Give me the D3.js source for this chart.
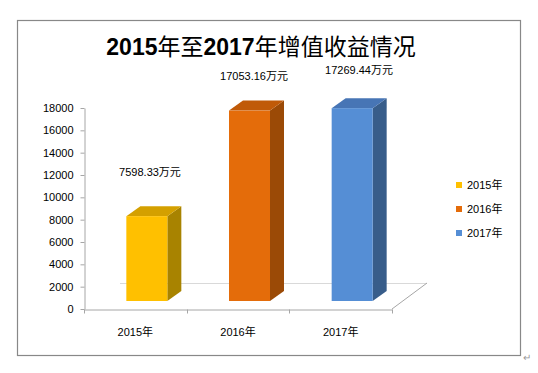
<!DOCTYPE html>
<html>
<head>
<meta charset="utf-8">
<script src="https://cdn.jsdelivr.net/npm/d3@7"></script>
<style>
	body{margin:0;background:#fff;}
	svg text{font-family:"Liberation Sans","Noto Sans CJK SC",sans-serif;fill:#000;}
</style>
</head>
<body>
<svg width="538" height="373"></svg>
<script>
const years = ['2015年','2016年','2017年'];
const values = [7598.33, 17053.16, 17269.44];
const valueLabels = ['7598.33万元','17053.16万元','17269.44万元'];
const yTicks = [0,2000,4000,6000,8000,10000,12000,14000,16000,18000];
const titleParts = [['2015',true],['年至',false],['2017',true],['年增值收益情况',false]];
const colors = [
	{front:'#FFC000', top:'#D4A000', side:'#A88300'},
	{front:'#E46C0A', top:'#C05A08', side:'#9B4A06'},
	{front:'#558ED5', top:'#4775B5', side:'#385D8A'}
];

const svg = d3.select('svg');

// frame
svg.append('rect')
	.attr('x',17.5).attr('y',20.5)
	.attr('width',503).attr('height',335)
	.attr('fill','none').attr('stroke','#888').attr('stroke-width',1.2);

svg.append('text')
	.attr('x',527).attr('y',361)
	.attr('text-anchor','middle')
	.style('font-size','10px').style('fill','#999')
	.text('↵');

// title: digits bold, cjk regular
svg.append('text')
	.attr('x',261).attr('y',55)
	.attr('text-anchor','middle')
	.style('font-size','23px')
	.selectAll('tspan')
	.data(titleParts)
	.join('tspan')
	.style('font-weight',d=>d[1] ? 'bold' : 'normal')
	.text(d=>d[0]);

const x = d3.scaleBand().domain(years).range([84,392]);
const y = d3.scaleLinear().domain([0,18000]).range([309,108]);

// depth of the 3d shapes
const dx = 14, dy = -10;
const yBar = v => y(v) - 8;

// floor back line + right edge
svg.append('line')
	.attr('x1',120).attr('x2',427).attr('y1',283.5).attr('y2',283.5)
	.attr('stroke','#d9d9d9');
svg.append('line')
	.attr('x1',392).attr('y1',309).attr('x2',427).attr('y2',283)
	.attr('stroke','#a6a6a6');

// axes
const yAxis = d3.axisLeft(y).tickValues(yTicks).tickFormat(d3.format('d'))
	.tickSize(4).tickSizeOuter(0).tickPadding(7);
const gy = svg.append('g').attr('transform','translate(84.5,0)').call(yAxis);
gy.select('.domain').attr('stroke','#a6a6a6');
gy.selectAll('.tick line').attr('stroke','#a6a6a6');
gy.selectAll('.tick text').style('font-size','11px').attr('fill','#000');

const xAxis = d3.axisBottom(x).tickSize(0).tickPadding(0);
const gx = svg.append('g').attr('transform','translate(0,309.5)').call(xAxis);
gx.select('.domain').attr('stroke','#a6a6a6');
gx.selectAll('.tick text').attr('dy',null).attr('y',26).style('font-size','11px').attr('fill','#000');
// category separators
gx.selectAll('line.sep')
	.data([84,187,289,392])
	.join('line')
	.classed('sep',true)
	.attr('x1',d=>d+0.5).attr('x2',d=>d+0.5)
	.attr('y1',0).attr('y2',4)
	.attr('stroke','#a6a6a6');

// bars
const barW = 41;
const bars = svg.selectAll('g.bar')
	.data(values)
	.join('g')
	.classed('bar',true);

bars.each(function(v,i){
	const g = d3.select(this);
	const x0 = x(years[i]) + x.bandwidth()/2 - 9;
	const x1 = x0 + barW;
	const yt = yBar(v), yb = yBar(0);
	const c = colors[i];
	g.append('path')
		.attr('d',`M${x1},${yt}L${x1+dx},${yt+dy}L${x1+dx},${yb+dy}L${x1},${yb}Z`)
		.attr('fill',c.side);
	g.append('path')
		.attr('d',`M${x0},${yt}L${x0+dx},${yt+dy}L${x1+dx},${yt+dy}L${x1},${yt}Z`)
		.attr('fill',c.top);
	g.append('rect')
		.attr('x',x0).attr('y',yt)
		.attr('width',barW).attr('height',yb-yt)
		.attr('fill',c.front);
});

// value labels
const labelPos = [[150,176],[254,80],[359,74]];
svg.selectAll('text.val')
	.data(valueLabels)
	.join('text')
	.classed('val',true)
	.attr('x',(d,i)=>labelPos[i][0])
	.attr('y',(d,i)=>labelPos[i][1])
	.attr('text-anchor','middle')
	.style('font-size','11px')
	.text(d=>d);

// legend
const legend = svg.selectAll('g.legend')
	.data(years)
	.join('g')
	.classed('legend',true)
	.attr('transform',(d,i)=>`translate(456,${185 + i*24})`);
legend.append('rect')
	.attr('x',0).attr('y',-3).attr('width',6).attr('height',6)
	.attr('fill',(d,i)=>colors[i].front);
legend.append('text')
	.attr('x',11).attr('y',4)
	.style('font-size','11px')
	.text(d=>d);
</script>
</body>
</html>
